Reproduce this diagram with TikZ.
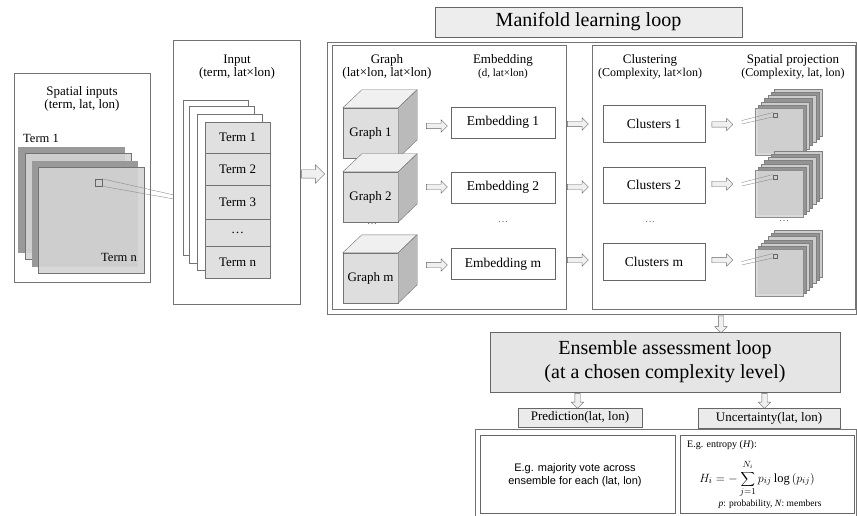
\documentclass[tikz,border=0pt]{standalone}
\usepackage{fontspec}
\setmainfont{Liberation Serif}
\setsansfont{Liberation Sans}
\usetikzlibrary{positioning,shapes.arrows,calc}

\newcommand{\fs}[1]{\fontsize{#1}{1.2\dimexpr#1pt\relax}\selectfont}

\begin{document}
\begin{tikzpicture}[x=1pt,y=-1pt,
  panel/.style={draw=black!55,line width=0.7pt},
  title/.style={align=center,inner sep=0pt,font=\fontsize{13}{13}\selectfont},
  card/.style={draw=black!55,fill=white},
  row/.style={draw=black!55,fill=black!12,minimum width=65pt,inner sep=0pt,outer sep=0pt,font=\fs{13}},
  box/.style={draw=black!60,fill=white,minimum width=104pt,minimum height=31pt,font=\fs{13.5}},
  face/.style={draw=black!55,fill=black!13,minimum width=55pt,minimum height=50pt,inner sep=0pt,font=\fs{13}},
  layer/.style={draw=black!45,fill=black!16,fill opacity=0.9,minimum width=48pt,minimum height=47pt,inner sep=0pt},
  pixel/.style={draw=black!60,minimum size=4pt,inner sep=0pt},
  hollow/.style={single arrow,draw=black!60,fill=black!6,inner sep=2.5pt,
    single arrow head extend=3.5pt,minimum height=21pt},
  down/.style={hollow,shape border rotate=270,minimum height=17pt},
  head/.style={draw=black!60,fill=black!8,inner sep=0pt}]
\useasboundingbox (0,0) rectangle (857,516);

\draw[panel] (14,73) rectangle (150,282);
\node[title] (spin) at (82,99) {Spatial inputs\\(term, lat, lon)};
\fill[black!40] (18,147) rectangle (125,253);
\draw[black!55,fill=black!17,fill opacity=0.9] (25,153) rectangle (131,259);
\fill[black!40] (32,161) rectangle (138,267);
\draw[black!55,fill=black!17,fill opacity=0.9] (38,167) rectangle (144,273);
\node[font=\fs{12.5}] (term1) at (41,138) {Term 1};
\node[font=\fs{12.5}] (termn) at (119,257) {Term n};
\node[pixel,minimum size=7pt] (pix) at (98.5,182.5) {};
\coordinate (pin1) at (174,195);
\coordinate (pin2) at (174,199);
\draw[black!45] (pix.north east) -- (pin1) (pix.south east) -- (pin2);

\draw[panel] (173,40) rectangle (300,304);
\node[title] (inp) at (237,67) {Input\\(term, lat×lon)};
\draw[card] (183,100) rectangle (248,255);
\draw[card] (189,106) rectangle (254,263);
\draw[card] (197,114) rectangle (262,270);
\node[row,minimum height=31pt] (t1) at (237.5,137.5) {Term 1};
\node[row,minimum height=32pt,below=0pt of t1] (t2) {Term 2};
\node[row,minimum height=34pt,below=0pt of t2] (t3) {Term 3};
\node[row,minimum height=27pt,below=0pt of t3] (t4) {\dots};
\node[row,minimum height=32pt,below=0pt of t4] (tn) {Term n};
\node[hollow,minimum height=23pt,inner sep=4pt,single arrow head extend=5pt] (a0) at (311,174) {};

\node[head,minimum width=307pt,minimum height=30pt,fill=black!7,font=\fs{20}] (mll) at (588.5,22) {Manifold learning loop};
\draw[panel] (327,42) rectangle (856,314);
\draw[panel] (332,45) rectangle (566,309);
\draw[panel] (592,45) rectangle (855,309);

\node[title] (gt) at (387,67) {Graph\\(lat×lon, lat×lon)};
\node[title] (et) at (503,67) {Embedding\\{\fontsize{11}{13}\selectfont(d, lat×lon)}};
\node[title] (ct) at (650,67) {Clustering\\{\fontsize{12}{13}\selectfont(Complexity, lat×lon)}};
\node[title] (st) at (793,67) {Spatial projection\\{\fontsize{12}{13}\selectfont(Complexity, lat, lon)}};

\foreach \n/\y/\t in {g1/133/Graph 1,g2/197/Graph 2,gm/278/Graph m} {
  \node[face] (\n) at (370.5,\y) {\t};
  \draw[black!55,fill=black!6] (\n.north west) -- ++(19,-18) -- ++(55,0) -- (\n.north east) -- cycle;
  \draw[black!55,fill=black!27] (\n.north east) -- ++(19,-18) -- ++(0,50) -- (\n.south east) -- cycle;
}
\node[black!60] (gdots) at (372,224) {\dots};

\node[hollow] (ga1) at (435.5,126) {};
\node[hollow] (ga2) at (435.5,187) {};
\node[hollow] (gam) at (435.5,265) {};

\node[box] (e1) at (503,122.5) {Embedding 1};
\node[box] (e2) at (503,187.5) {Embedding 2};
\node[box] (em) at (503,264) {Embedding m};
\node[black!60] (edots) at (503,222) {\dots};

\node[hollow] (ea1) at (576.5,124) {};
\node[hollow] (ea2) at (576.5,187) {};
\node[hollow] (eam) at (576.5,260) {};

\node[box,minimum width=102pt,minimum height=37pt] (c1) at (654,123.5) {Clusters 1};
\node[box,minimum width=102pt,minimum height=36pt] (c2) at (654,185) {Clusters 2};
\node[box,minimum width=102pt,minimum height=37pt] (cm) at (654,261.5) {Clusters m};
\node[black!60] (cdots) at (650,222) {\dots};

\node[hollow] (ca1) at (721,124.5) {};
\node[hollow] (ca2) at (721,184) {};
\node[hollow] (cam) at (721,260) {};

\foreach \s/\y in {s1/108,s2/170,sm/249} {
  \foreach \i in {6,5,...,1} {
    \ifodd\i \def\c{black!42}\else\def\c{black!20}\fi
    \draw[black!50,fill=\c] (755+3.2*\i,\y-3.1*\i) rectangle ++(48,47);
  }
  \node[layer] (\s) at (779,\y+23.5) {};
  \node[pixel] (\s p) at ($(\s.north west)+(20,7)$) {};
  \draw[black!45] (\s p.north west) -- ++(-31,8) (\s p.south west) -- ++(-31,7);
}
\node[black!60] (sdots) at (784,221) {\dots};

\node[down] (ad) at (721,323) {};
\node[head,minimum width=350pt,minimum height=60pt,fill=black!10,align=center,font=\fs{20}] (ens) at (665,362)
  {Ensemble assessment loop\\(at a chosen complexity level)};
\node[down,minimum height=15pt] (ap) at (577.5,399.5) {};
\node[down,minimum height=15pt] (au) at (764.5,399.5) {};
\node[head,minimum width=124pt,minimum height=19pt,font=\fs{13}] (pred) at (580,417.5) {Prediction(lat, lon)};
\node[head,minimum width=142pt,minimum height=20pt,font=\fs{13}] (unc) at (769,418) {Uncertainty(lat, lon)};

\draw[panel] (475,429) rectangle (856,530);
\node[draw=black!60,minimum width=195pt,minimum height=78pt] (pbox) at (577.5,474) {};
\node[draw=black!60,minimum width=174pt,minimum height=78pt] (ubox) at (767,474) {};
\node[align=center,font=\sffamily\fs{11}] (vote) at (575,475) {E.g. majority vote across\\ensemble for each (lat, lon)};
\node[anchor=west,inner sep=0pt,font=\fs{10}] (ent) at (687,445) {E.g. entropy (\textit{H}):};
\node[inner sep=0pt,font=\fs{12.5}] (hf) at (757,479)
  {$\displaystyle H_i=-\mathop{\sum}\limits_{j=1}^{\raisebox{1.5pt}{$\scriptstyle N_i$}} p_{ij}\log\left(p_{ij}\right)$};
\node[inner sep=0pt,font=\fs{9.5}] (pn) at (770,504) {\textit{p}: probability, \textit{N}: members};
\end{tikzpicture}
\end{document}
